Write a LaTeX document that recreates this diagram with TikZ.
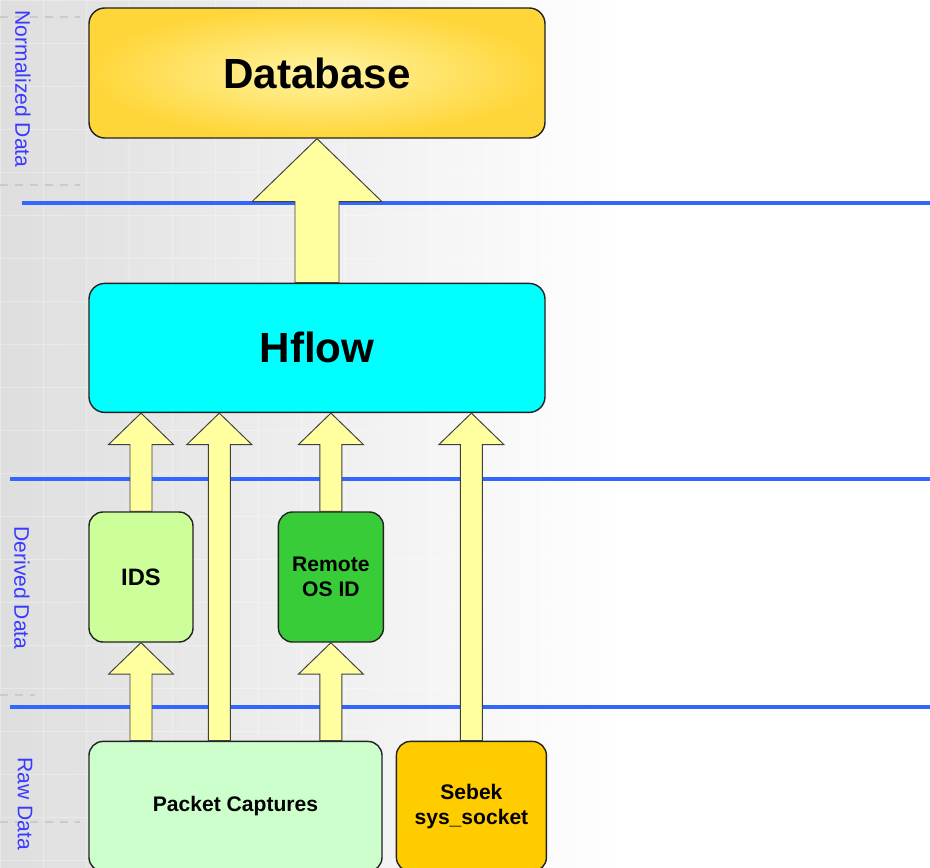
\documentclass[tikz,border=0pt]{standalone}
\usepackage{fontspec}
\setmainfont{Liberation Sans}
\usetikzlibrary{positioning,calc}
\definecolor{dbinner}{HTML}{FFF4A2}
\definecolor{dbouter}{HTML}{FFD63A}
\definecolor{hflowcyan}{HTML}{00FFFF}
\definecolor{idsgreen}{HTML}{CCFF99}
\definecolor{osgreen}{HTML}{38CC38}
\definecolor{pcapgreen}{HTML}{CCFFCC}
\definecolor{sebekgold}{HTML}{FFCC00}
\definecolor{arrowyellow}{HTML}{FFFFA0}
\definecolor{edgedark}{HTML}{222222}
\definecolor{lineblue}{HTML}{3366FF}
\definecolor{labelblue}{HTML}{3A3AFF}
\definecolor{bggray}{HTML}{DEDEDE}
\definecolor{dashgray}{HTML}{CACACA}
\tikzset{
  box/.style={
    rectangle, rounded corners=9pt, draw=edgedark, line width=0.8pt,
    inner sep=0pt, align=center, font=\bfseries, text=black
  },
  bigbox/.style={box, minimum width=9.12cm, minimum height=2.6cm,
    font=\bfseries\fontsize{24}{28}\selectfont},
  smallbox/.style={box, minimum width=2.08cm, minimum height=2.6cm,
    rounded corners=8pt},
  blockarrow/.style={fill=arrowyellow, draw=black!75, line width=0.55pt, line join=miter},
  layerline/.style={lineblue, line width=2.1pt},
  lanelabel/.style={rotate=-90, text=labelblue, font=\fontsize{12}{14}\selectfont},
  griddash/.style={dashgray, line width=1.2pt, dash pattern=on 4.5pt off 4pt}
}
% #1 size factor, #2 start (x and y), #3 end (y only)
\newcommand{\blockup}[3]{
  \draw[blockarrow] let \p1=(#2), \p2=(#3) in
    (\x1-0.22cm*#1,\y1) -- (\x1-0.22cm*#1,\y2-0.63cm*#1) -- (\x1-0.65cm*#1,\y2-0.63cm*#1)
    -- (\x1,\y2) -- (\x1+0.65cm*#1,\y2-0.63cm*#1) -- (\x1+0.22cm*#1,\y2-0.63cm*#1)
    -- (\x1+0.22cm*#1,\y1) -- cycle;
}

\begin{document}
\begin{tikzpicture}
\useasboundingbox (0,0) rectangle (18.6,-17.36);
% background
\fill[white] (0,0) rectangle (18.6,-17.36);
\shade[left color=bggray, right color=white] (0,0) rectangle (12.5,-17.36);
\draw[white, line width=0.5pt, opacity=0.3] (0,0) grid[step=0.86] (12.5,-17.36);
\draw[griddash] (0,-0.34) -- (1.6,-0.34);
\draw[griddash] (0,-3.7) -- (1.6,-3.7);
\draw[griddash] (0,-13.9) -- (0.7,-13.9);
\draw[griddash] (0,-16.44) -- (1.6,-16.44);
% layer separators
\draw[layerline] (0.44,-4.06) -- (18.6,-4.06);
\draw[layerline] (0.2,-9.58) -- (18.6,-9.58);
\draw[layerline] (0.2,-14.14) -- (18.6,-14.14);
\node[lanelabel] (normlbl) at (0.46,-1.78) {Normalized Data};
\node[lanelabel] (derivlbl) at (0.44,-11.76) {Derived Data};
\node[lanelabel] (rawlbl) at (0.5,-16.07) {Raw Data};

% nodes
\node[bigbox, inner color=dbinner, outer color=dbouter] (db) at (6.34,-1.46) {Database};
\node[bigbox, fill=hflowcyan, minimum height=2.58cm, below=2.88cm of db] (hflow) {Hflow};
\node[smallbox, fill=idsgreen, font=\bfseries\fontsize{13.5}{16}\selectfont] (ids) at (2.82,-11.54) {IDS};
\node[smallbox, fill=osgreen, minimum width=2.1cm, font=\bfseries\fontsize{12}{14}\selectfont,
  right=1.68cm of ids] (osid) {Remote\\OS ID};
\node[smallbox, fill=pcapgreen, minimum width=5.86cm, font=\bfseries\fontsize{12}{14.6}\selectfont,
  below=1.96cm of ids.south west, anchor=north west] (pcap) {Packet Captures};
\node[smallbox, fill=sebekgold, minimum width=3cm, font=\bfseries\fontsize{12}{14.6}\selectfont,
  right=0.26cm of pcap] (sebek) {Sebek\\sys\_socket};

% block arrows
\blockup{2}{hflow.north}{db.south}
\blockup{1}{ids.north}{hflow.south}
\blockup{1}{[xshift=2.62cm]pcap.north west}{hflow.south}
\blockup{1}{osid.north}{hflow.south}
\blockup{1}{sebek.north}{hflow.south}
\blockup{1}{pcap.north -| ids.north}{ids.south}
\blockup{1}{pcap.north -| osid.north}{osid.south}
\end{tikzpicture}
\end{document}
